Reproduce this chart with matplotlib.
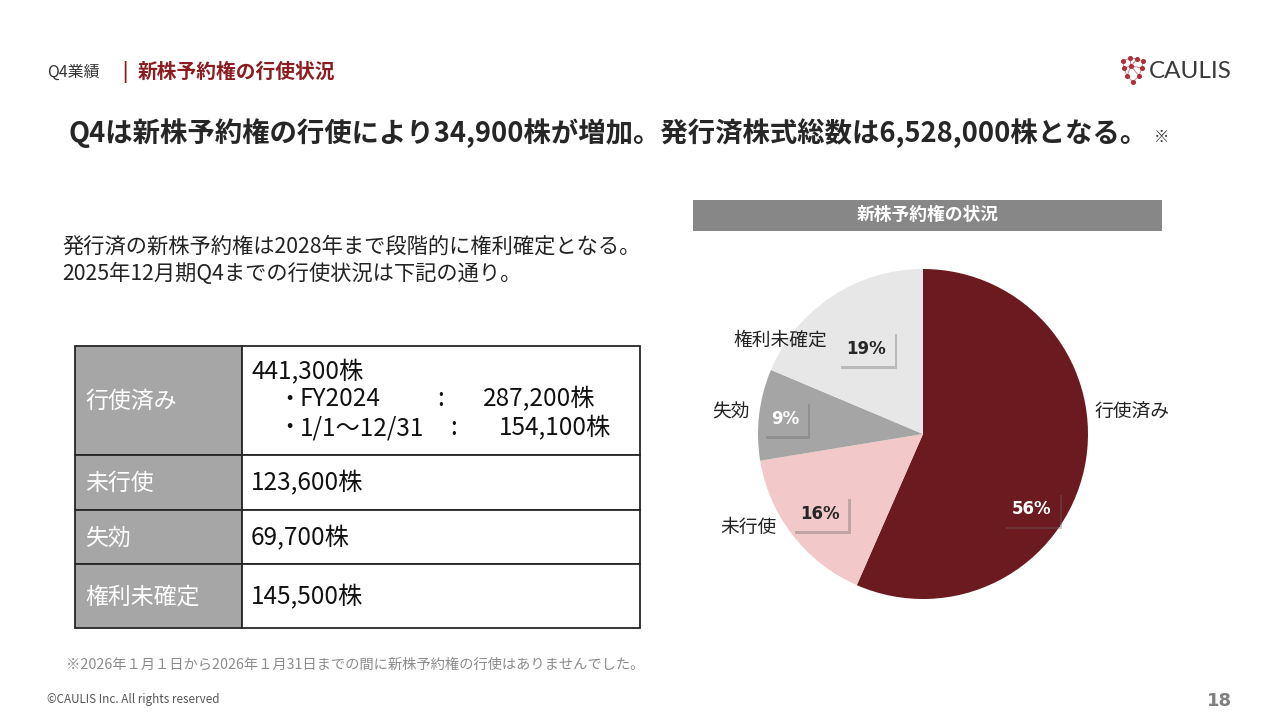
import matplotlib
matplotlib.use("Agg")
import numpy as np
import matplotlib.pyplot as plt
from matplotlib.patches import Rectangle
from matplotlib import patheffects

plt.rcParams['font.family'] = ['Noto Sans CJK JP', 'DejaVu Sans']

# Data
row_labels = ['行使済み', '未行使', '失効', '権利未確定']
shares = [441300, 123600, 69700, 145500]
breakdown_labels = ['FY2024', '1/1〜12/31']
breakdown_values = [287200, 154100]
pct_labels = ['56%', '16%', '9%', '19%']
pie_colors = ['#6b1b1f', '#f2c8c8', '#a5a5a5', '#e7e7e7']
pct_text_colors = ['white', '#262626', 'white', '#262626']

# label placement tweaks (radius, angle offset from wedge middle)
pct_radius = [0.80, 0.79, 0.84, 0.62]
pct_angle_shift = [-23, 0, 0.5, 0]
lab_radius = [1.05, 1.05, 1.06, 0.81]
lab_angle_shift = [19, -5.3, -0.4, 12]
lab_ha = ['left', 'right', 'right', 'right']

RED = '#8b1c1f'
DARK = '#262626'

fig = plt.figure(figsize=(12.8, 7.2), dpi=100)
bg = fig.add_axes([0, 0, 1, 1])
bg.set_xlim(0, 1280)
bg.set_ylim(720, 0)
bg.axis('off')

# header
bg.text(47, 72, 'Q4業績', fontsize=11.5, color='#333333', va='center')
bg.text(122, 72, '|', fontsize=13, color=RED, va='center', fontweight='bold')
bg.text(138, 72, '新株予約権の行使状況', fontsize=14.2, color=RED, va='center',
        fontweight='bold')

# logo
pts = np.array([(1123, 61), (1130, 58), (1137, 59), (1143, 61), (1124, 68),
                (1142, 68), (1127, 76), (1139, 76), (1133, 82), (1131, 66)])
links = [(0, 1), (1, 2), (2, 3), (0, 4), (3, 5), (4, 6), (5, 7), (6, 8),
         (7, 8), (1, 9), (9, 6), (9, 7), (2, 9), (9, 5), (4, 9)]
for a, b in links:
    bg.plot([pts[a, 0], pts[b, 0]], [pts[a, 1], pts[b, 1]], color='#c98a8e', lw=0.7)
bg.scatter(pts[:, 0], pts[:, 1], s=7, color='#b0303a', zorder=3)
bg.text(1149, 72, 'CAULIS', fontsize=17.5, color='#3a3a3a', va='center',
        family='Lato')

# headline
bg.text(68, 133, 'Q4は新株予約権の行使により34,900株が増加。発行済株式総数は6,528,000株となる。',
        fontsize=19.7, fontweight='bold', color=DARK, va='center')
bg.text(1162, 137, '※', fontsize=11, fontweight='bold', color=DARK, va='center',
        ha='center')

# body text
bg.text(62, 247, '発行済の新株予約権は2028年まで段階的に権利確定となる。',
        fontsize=15.3, color='#222222', va='center')
bg.text(62, 274, '2025年12月期Q4までの行使状況は下記の通り。',
        fontsize=15.3, color='#222222', va='center')

# table
col_x = [75, 242, 640]
row_y = [346, 455, 510, 564, 628]
for i in range(len(row_labels)):
    y0, y1 = row_y[i], row_y[i + 1]
    bg.add_patch(Rectangle((col_x[0], y0), col_x[1] - col_x[0], y1 - y0,
                           fc='#a6a6a6', ec='#262626', lw=1.3))
    bg.add_patch(Rectangle((col_x[1], y0), col_x[2] - col_x[1], y1 - y0,
                           fc='white', ec='#262626', lw=1.3))
    bg.text(85, (y0 + y1) / 2 + 1, row_labels[i], fontsize=16.5, color='white',
            va='center')
    if i == 0:
        bg.text(251, 372, f'{shares[i]:,}株', fontsize=17.5, color='#111111', va='center')
        for k, (lab, val) in enumerate(zip(breakdown_labels, breakdown_values)):
            yy = 399 + k * 29
            bg.text(289, yy, '・', fontsize=16, color='#111111', va='center',
                    ha='center')
            bg.text(300, yy, lab, fontsize=17.5, color='#111111', va='center')
            bg.text(437 + k * 13, yy, ':', fontsize=17.5, color='#111111', va='center')
            bg.text(595 + k * 16, yy, f'{val:,}株', fontsize=17.5, color='#111111',
                    va='center', ha='right')
    else:
        bg.text(251, (y0 + y1) / 2 + 1, f'{shares[i]:,}株', fontsize=17.5,
                color='#111111', va='center')

# footnotes
bg.text(66, 665, '※2026年１月１日から2026年１月31日までの間に新株予約権の行使はありませんでした。',
        fontsize=10.3, color='#8c8c8c', va='center')
bg.text(47, 699, '©CAULIS Inc. All rights reserved', fontsize=8.4, color='#555555',
        va='center')
bg.text(1232, 701, '18', fontsize=13, fontweight='bold', color='#808080',
        va='center', ha='right', family='DejaVu Sans')

# pie header bar
bg.add_patch(Rectangle((693, 200), 469, 31, fc='#878787', ec='none'))
bg.text(927.5, 215, '新株予約権の状況', fontsize=12.8, fontweight='bold',
        color='white', ha='center', va='center')

# pie chart
cx, cy, r = 923, 434, 165
ax = fig.add_axes([(cx - r) / 1280, (720 - cy - r) / 720, 2 * r / 1280, 2 * r / 720])
wedges, texts = ax.pie(shares, labels=row_labels, colors=pie_colors, startangle=90,
                       counterclock=False, radius=1,
                       wedgeprops=dict(linewidth=0),
                       textprops=dict(fontsize=13.5, color='#222222'))
ax.set_xlim(-1, 1)
ax.set_ylim(-1, 1)
ax.set_aspect('auto')

for i, w in enumerate(wedges):
    mid = (w.theta1 + w.theta2) / 2
    a = np.deg2rad(mid + pct_angle_shift[i])
    t = ax.text(pct_radius[i] * np.cos(a), pct_radius[i] * np.sin(a), pct_labels[i],
                ha='center', va='center', fontsize=12, fontweight='bold',
                color=pct_text_colors[i], family='DejaVu Sans',
                bbox=dict(boxstyle='square,pad=0.5', fc=pie_colors[i], ec='none'))
    t.get_bbox_patch().set_path_effects([
        patheffects.SimplePatchShadow(offset=(2, -2), shadow_rgbFace='#666666', alpha=0.35),
        patheffects.Normal()])
    b = np.deg2rad(mid + lab_angle_shift[i])
    texts[i].set_position((lab_radius[i] * np.cos(b), lab_radius[i] * np.sin(b)))
    texts[i].set_ha(lab_ha[i])
    texts[i].set_va('center')

fig.savefig('out.png', dpi=100, facecolor='white')
